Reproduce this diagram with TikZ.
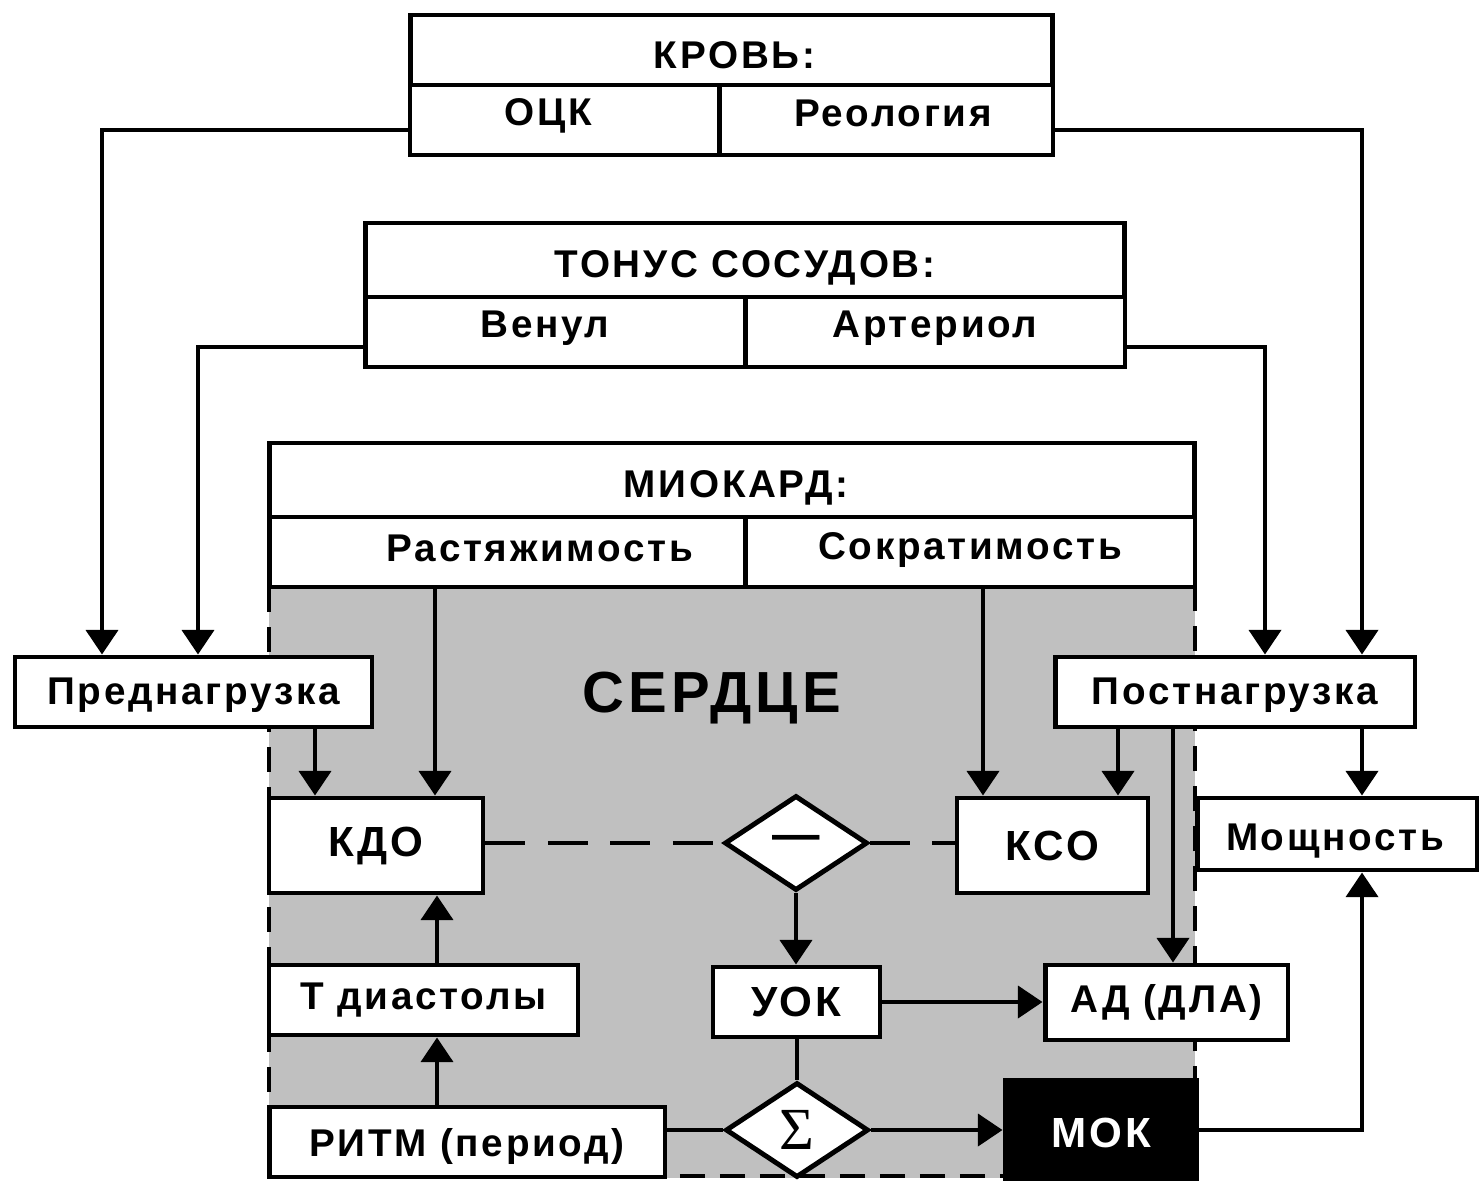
\documentclass[tikz,border=0pt]{standalone}
\usepackage{fontspec}
\setmainfont{Liberation Sans}[LetterSpace=7]
\newfontfamily\sigmafont{Liberation Serif}
\usetikzlibrary{arrows.meta,shapes.geometric}
\definecolor{heartgray}{RGB}{192,192,192}
\tikzset{
  lw/.style={line width=2.8pt},
  txt/.style={inner sep=0pt, font=\bfseries\fontsize{22}{26}\selectfont},
  cell/.style={draw, lw, fill=white, rectangle, inner sep=0pt, font=\bfseries\fontsize{22}{26}\selectfont},
  bigcell/.style={cell, font=\bfseries\fontsize{24}{28}\selectfont},
  dia/.style={draw, lw, fill=white, diamond, inner sep=0pt, minimum width=2.86cm, minimum height=1.9cm},
  arr/.style={lw, -{Triangle[length=14pt,width=18pt]}},
  conn/.style={lw},
  dashline/.style={lw, dash pattern=on 0.8cm off 0.45cm},
  borderdash/.style={lw, dash pattern=on 0.5cm off 0.3cm},
}
\begin{document}
\begin{tikzpicture}[x=0.02cm,y=-0.02cm]
\useasboundingbox (0,0) rectangle (1479,1180);
\fill[white] (0,0) rectangle (1479,1180);

% heart background
\fill[heartgray] (269,587) rectangle (1195,1178);
\draw[borderdash] (269,587) -- (269,1176) -- (1195,1176) -- (1195,587);

% КРОВЬ
\node[cell, minimum width=12.86cm, minimum height=1.4cm,
  label={[txt, xshift=0.06cm, yshift=-0.1cm]center:КРОВЬ:}] (krov) at (731.5,50) {};
\node[cell, minimum width=6.18cm, minimum height=1.4cm,
  label={[txt, xshift=-0.32cm, yshift=0.08cm]center:ОЦК}] (ock) at (564.5,120) {};
\node[cell, minimum width=6.68cm, minimum height=1.4cm,
  label={[txt, xshift=0.14cm, yshift=0.14cm]center:Реология}] (reo) at (886,120) {};

% ТОНУС СОСУДОВ
\node[cell, minimum width=15.2cm, minimum height=1.48cm,
  label={[txt, yshift=-0.16cm]center:ТОНУС СОСУДОВ:}] (tonus) at (745,260) {};
\node[cell, minimum width=7.6cm, minimum height=1.4cm,
  label={[txt, xshift=-0.2cm, yshift=0.08cm]center:Венул}] (venul) at (555,332) {};
\node[cell, minimum width=7.6cm, minimum height=1.4cm,
  label={[txt, yshift=0.08cm]center:Артериол}] (arter) at (935,332) {};

% МИОКАРД
\node[cell, minimum width=18.52cm, minimum height=1.48cm,
  label={[txt, xshift=0.08cm, yshift=-0.16cm]center:МИОКАРД:}] (miok) at (732,480) {};
\node[cell, minimum width=9.52cm, minimum height=1.4cm,
  label={[txt, xshift=0.66cm, yshift=0.08cm]center:Растяжимость}] (rast) at (507,552) {};
\node[cell, minimum width=9.0cm, minimum height=1.4cm,
  label={[txt, yshift=0.04cm]center:Сократимость}] (sokr) at (970,552) {};

% loads
\node[cell, minimum width=7.14cm, minimum height=1.4cm,
  label={[txt, yshift=-0.06cm]center:Преднагрузка}] (pred) at (193.5,692) {};
\node[cell, minimum width=7.2cm, minimum height=1.4cm,
  label={[txt, yshift=-0.06cm]center:Постнагрузка}] (post) at (1235,692) {};

\node[font=\bfseries\fontsize{33}{38}\selectfont, inner sep=0pt] (serdce) at (712,698) {СЕРДЦЕ};

\node[bigcell, minimum width=4.28cm, minimum height=1.9cm] (kdo) at (376,845.5) {КДО};
\node[bigcell, minimum width=3.82cm, minimum height=1.9cm] (kso) at (1052.5,845.5) {КСО};
\node[dia, font=\bfseries\fontsize{27}{30}\selectfont] (minus) at (796,843) {—};
\node[cell, minimum width=5.6cm, minimum height=1.44cm,
  label={[txt, xshift=-0.04cm, yshift=-0.14cm]center:Мощность}] (mosh) at (1337,834) {};

\node[bigcell, minimum width=3.34cm, minimum height=1.4cm] (uok) at (796.5,1002) {УОК};
\node[cell, minimum width=4.86cm, minimum height=1.5cm] (ad) at (1166.5,1002.5) {АД (ДЛА)};
\node[cell, minimum width=6.18cm, minimum height=1.4cm] (tdias) at (423.5,1000) {Т диастолы};
\node[cell, minimum width=7.92cm, minimum height=1.4cm,
  label={[txt, yshift=-0.08cm]center:РИТМ (период)}] (ritm) at (467,1142) {};
\node[dia, font=\sigmafont\fontsize{34}{38}\selectfont] (sigma) at (797,1130) {Σ};
\node[bigcell, fill=black, text=white, minimum width=3.84cm, minimum height=2.12cm] (mok) at (1101,1133) {МОК};

% connectors from top blocks
\draw[arr] (ock.west |- 0,130) -| (pred.north -| 102,0);
\draw[arr] (reo.east |- 0,130) -| (post.north -| 1362,0);
\draw[arr] (venul.west |- 0,347) -| (pred.north -| 198,0);
\draw[arr] (arter.east |- 0,347) -| (post.north -| 1265,0);

\draw[arr] (rast.south -| 435,0) -- (kdo.north -| 435,0);
\draw[arr] (pred.south -| 315,0) -- (kdo.north -| 315,0);
\draw[arr] (sokr.south -| 983,0) -- (kso.north -| 983,0);
\draw[arr] (post.south -| 1118,0) -- (kso.north -| 1118,0);
\draw[arr] (post.south -| 1173,0) -- (ad.north -| 1173,0);
\draw[arr] (post.south -| 1362,0) -- (mosh.north -| 1362,0);

\draw[dashline] (kdo.east |- minus.west) -- (minus.west);
\draw[dashline] (minus.east) -- (kso.west |- minus.east);

\draw[arr] (minus.south) -- (uok.north -| minus.south);
\draw[arr] (uok.east) -- (ad.west |- uok.east);
\draw[conn] (uok.south -| sigma.north) -- (sigma.north);
\draw[conn] (ritm.east |- sigma.west) -- (sigma.west);
\draw[arr] (sigma.east) -- (mok.west |- sigma.east);
\draw[arr] (mok.east |- 0,1130) -| (mosh.south -| 1362,0);

\draw[arr] (tdias.north -| 437,0) -- (kdo.south -| 437,0);
\draw[arr] (ritm.north -| 437,0) -- (tdias.south -| 437,0);
\end{tikzpicture}
\end{document}
